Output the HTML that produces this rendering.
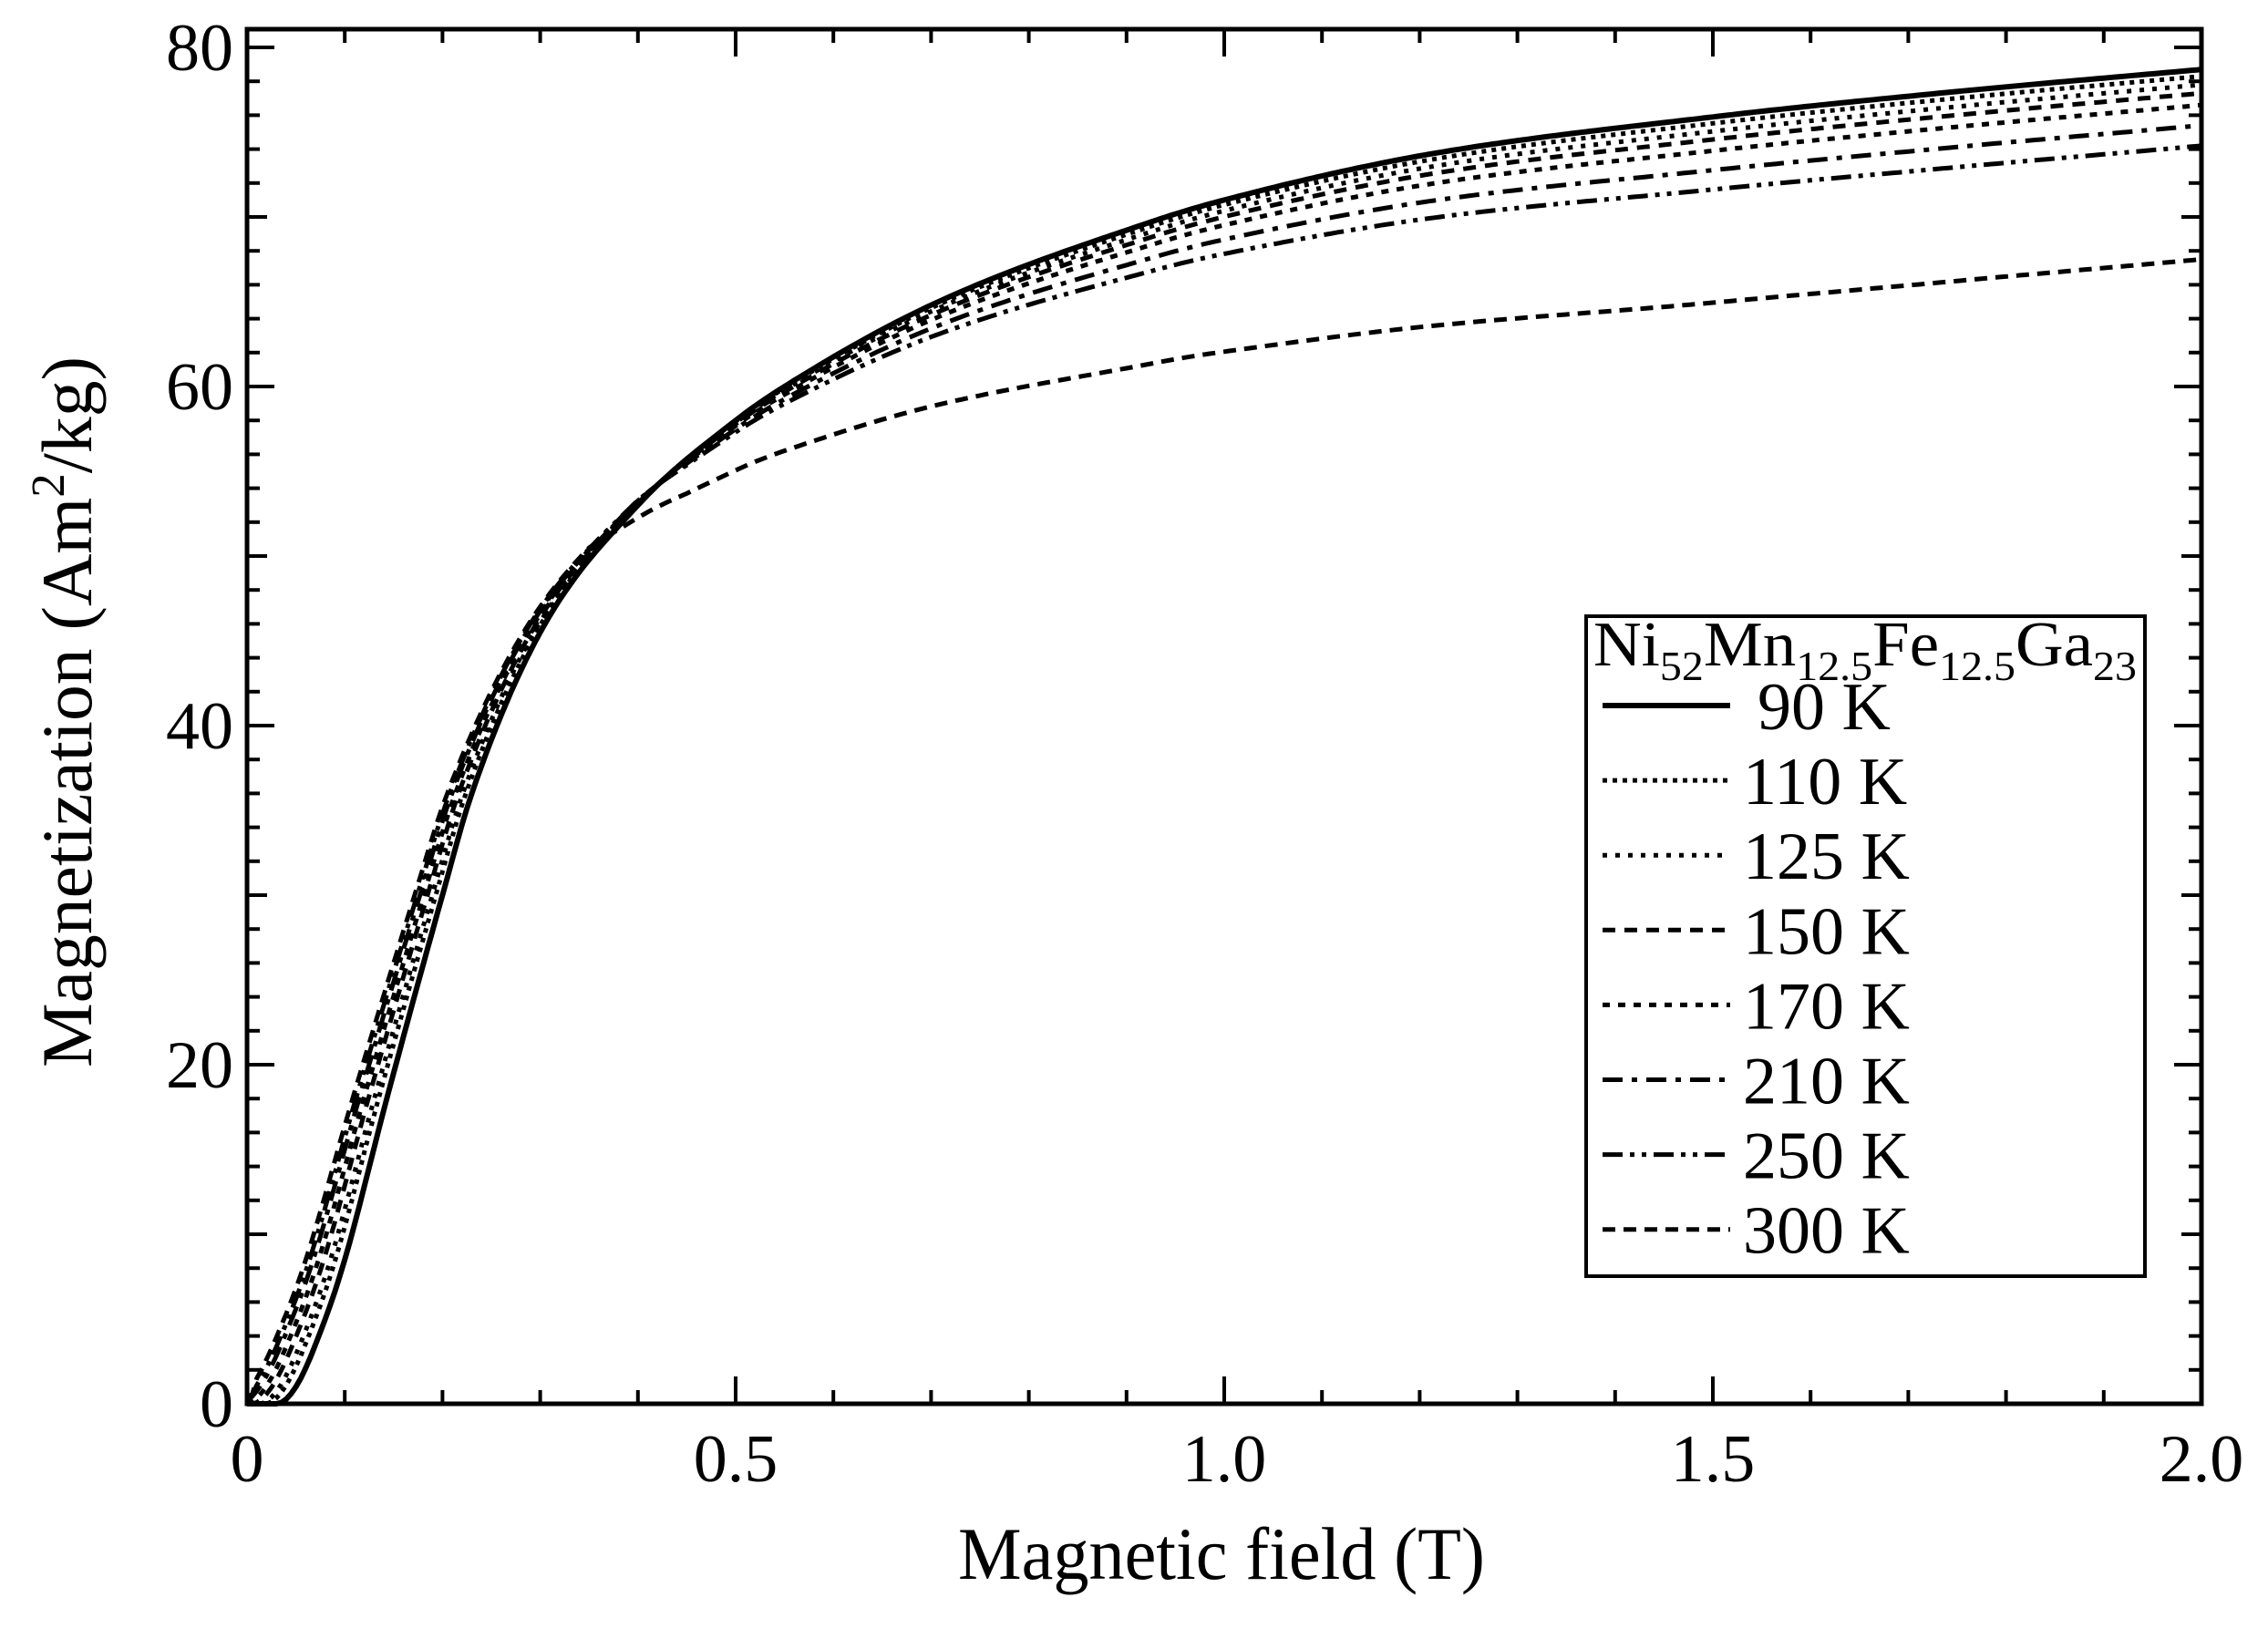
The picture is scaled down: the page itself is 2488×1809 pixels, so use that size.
<!DOCTYPE html>
<html><head><meta charset="utf-8"><style>
html,body{margin:0;padding:0;background:#fff;}
svg{display:block;}
text{font-family:"Liberation Serif",serif;fill:#000;}
</style></head><body>
<svg id="s" width="2488" height="1809" viewBox="0 0 2488 1809" xmlns="http://www.w3.org/2000/svg">
<g id="ticks" stroke="#000" stroke-width="4"></g>
<g id="curves" fill="none" stroke="#000"></g>
<rect x="271" y="32" width="2144" height="1508" fill="none" stroke="#000" stroke-width="5"/>
<g id="labels" font-size="74"></g>
<text x="1340" y="1732" font-size="82" text-anchor="middle" textLength="578" lengthAdjust="spacingAndGlyphs">Magnetic field (T)</text>
<text transform="translate(100,781) rotate(-90)" font-size="78" text-anchor="middle" textLength="780" lengthAdjust="spacingAndGlyphs">Magnetization (Am<tspan dy="-30" font-size="52">2</tspan><tspan dy="30">/kg)</tspan></text>
<rect x="1740" y="676" width="613" height="724" fill="#fff" stroke="#000" stroke-width="4"/>
<text x="1748" y="730" font-size="70" textLength="596" lengthAdjust="spacingAndGlyphs">Ni<tspan font-size="46" dy="16">52</tspan><tspan dy="-16">Mn</tspan><tspan font-size="46" dy="16">12.5</tspan><tspan dy="-16">Fe</tspan><tspan font-size="46" dy="16">12.5</tspan><tspan dy="-16">Ga</tspan><tspan font-size="46" dy="16">23</tspan></text>
<g id="legend" font-size="74"></g>
</svg>
<script>
var NS="http://www.w3.org/2000/svg";
var X0=271,X1=2415,Y0=1540,YS=(1540-52)/80;
function px(h){return X0+h*(X1-X0)/2;}
function py(m){return Y0-m*YS;}
function el(p,t,a,txt){var e=document.createElementNS(NS,t);for(var k in a)e.setAttribute(k,a[k]);if(txt!=null)e.textContent=txt;document.getElementById(p).appendChild(e);return e;}
for(var i=0;i<=20;i++){var x=px(i*0.1);var L=(i%5==0)?30:15;
 el("ticks","line",{x1:x,y1:Y0,x2:x,y2:Y0-L});el("ticks","line",{x1:x,y1:32,x2:x,y2:32+L});}
for(var m=0;m<=80;m+=2){var y=py(m);var L=(m%20==0)?30:(m%10==0?22:14);
 el("ticks","line",{x1:X0,y1:y,x2:X0+L,y2:y});el("ticks","line",{x1:X1,y1:y,x2:X1-L,y2:y});}
[["0",0],["0.5",0.5],["1.0",1],["1.5",1.5],["2.0",2]].forEach(function(a){el("labels","text",{x:px(a[1]),y:1625,"text-anchor":"middle"},a[0]);});
[0,20,40,60,80].forEach(function(v){el("labels","text",{x:256,y:py(v)+25,"text-anchor":"end"},""+v);});
var A=[[0,0],[0.03,0],[0.05,1],[0.08,5],[0.1,8.5],[0.143,18],[0.2,30],[0.23,36],[0.3,45.5],[0.4,53],[0.5,58],[0.55,60],[0.7,64.8],[0.93,69.8],[1.0,71],[1.2,73.6],[1.5,75.9],[1.75,77.4],[2.0,78.7]];
var n=A.length,dl=[],ms=[];
for(var i=0;i<n-1;i++)dl.push((A[i+1][1]-A[i][1])/(A[i+1][0]-A[i][0]));
ms[0]=dl[0];ms[n-1]=dl[n-2];
for(var i=1;i<n-1;i++){ms[i]=(dl[i-1]*dl[i]<=0)?0:(dl[i-1]+dl[i])/2;}
for(var i=0;i<n-1;i++){if(dl[i]==0){ms[i]=ms[i+1]=0;continue;}var a=ms[i]/dl[i],b=ms[i+1]/dl[i],s=a*a+b*b;if(s>9){var t=3/Math.sqrt(s);ms[i]=t*a*dl[i];ms[i+1]=t*b*dl[i];}}
function f(h){if(h<=0)return 0;if(h>=2)return 78.7+(h-2)*2;for(var i=0;i<n-1;i++){if(h<=A[i+1][0]){var x0=A[i][0],x1=A[i+1][0],hh=x1-x0,t=(h-x0)/hh;
 var h00=2*t*t*t-3*t*t+1,h10=t*t*t-2*t*t+t,h01=-2*t*t*t+3*t*t,h11=t*t*t-t*t;
 return h00*A[i][1]+h10*hh*ms[i]+h01*A[i+1][1]+h11*hh*ms[i+1];}}return 78.7;}
function g(h){if(h<0.4)return 0;var t=(h-0.4)/1.6;return 1-Math.pow(1-t,2.6);}
function g2(h){if(h<0.35)return 0;var t=(h-0.35)/1.65;return 1-Math.pow(1-t,3.2);}
var S=[["90 K",0,0,"",6],["110 K",0.4,0.012,"5 6",5],["125 K",0.9,0.018,"5 9",5],["150 K",1.4,0.026,"14 10",5],["170 K",2.1,0.032,"8 9",5],["210 K",3.3,0.038,"22 10 6 10",5],["250 K",4.5,0.042,"22 8 5 8 5 8",5],["300 K",11.2,0.046,"14 9",5]];
S.forEach(function(s,idx){
 var d="";for(var k=0;k<=400;k++){var h=k/200;var sh=s[2]*Math.max(0,1-h/0.45);var hh=h+sh;
  var mm=f(hh)-s[1]*(idx==7?g2(h):g(h));if(h<0.01)mm=Math.min(mm,0.5);
  d+=(k?"L":"M")+px(h).toFixed(1)+" "+py(mm).toFixed(1);}
 var a={d:d,"stroke-width":s[4]};if(s[3])a["stroke-dasharray"]=s[3];el("curves","path",a);
 var y=774+idx*82.1;var la={x1:1758,y1:y,x2:1898,y2:y,stroke:"#000","stroke-width":s[4]};if(s[3])la["stroke-dasharray"]=s[3];
 el("legend","line",la);
 el("legend","text",{x:(idx==0?1928:1912),y:y+26},s[0]);
});
</script>
</body></html>
